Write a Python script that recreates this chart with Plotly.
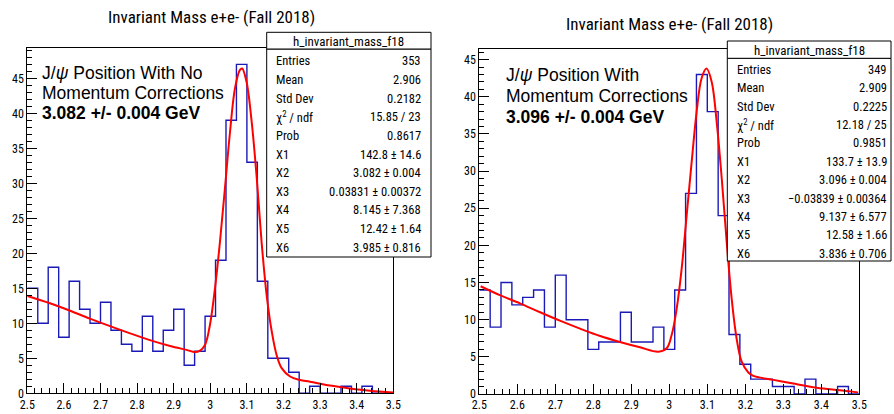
import numpy as np
import plotly.graph_objects as go

# ---------------- data ----------------
bin_lo, bin_hi, n_bins = 2.5, 3.5, 35

counts_left = [15, 10, 18, 8, 16, 12, 10, 13, 9, 7, 6, 11, 6, 9, 12, 4, 6, 11, 19,
               39, 47, 33, 16, 5, 5, 3, 0, 1, 0, 0, 1, 0, 1, 0, 0]
counts_right = [14, 9, 15, 12, 13, 14, 9, 16, 10, 10, 6, 7, 7, 11, 7, 7, 9, 6, 14,
                27, 43, 38, 24, 8, 4, 2, 2, 1, 1, 0, 2, 0, 0, 1, 0]

# fit curves
fit_left_x = [2.5, 2.562, 2.617, 2.671, 2.726, 2.781, 2.835, 2.890, 2.935, 2.958,
              2.972, 2.9855, 2.999, 3.0128, 3.0265, 3.040, 3.054, 3.0675, 3.081, 3.087,
              3.099, 3.113, 3.127, 3.140, 3.154, 3.168, 3.181, 3.195, 3.218, 3.245,
              3.272, 3.327, 3.381, 3.436, 3.5]
fit_left_y = [13.9, 12.86, 11.8, 10.67, 9.6, 8.57, 7.6, 6.76, 6.2, 5.9,
              6.1, 6.9, 9.76, 15.0, 21.7, 29.3, 37.4, 43.6, 46.2, 46.4,
              44.5, 38.8, 30.7, 21.7, 14.0, 8.8, 5.5, 3.6, 2.4, 1.9,
              1.66, 1.1, 0.7, 0.37, 0.12]

fit_right_x = [2.5035, 2.554, 2.607, 2.66, 2.712, 2.765, 2.818, 2.87, 2.923, 2.971,
               2.993, 3.006, 3.0195, 3.0326, 3.0458, 3.059, 3.072, 3.085, 3.098, 3.1116,
               3.1247, 3.138, 3.151, 3.164, 3.177, 3.1905, 3.208, 3.221, 3.274, 3.326,
               3.388, 3.449, 3.497]
fit_right_y = [14.5, 13.3, 12.2, 11.0, 9.87, 8.8, 7.8, 7.0, 6.28, 5.7,
               6.15, 7.9, 11.5, 16.9, 24.1, 31.3, 38.0, 42.5, 43.8, 42.0,
               36.6, 29.0, 20.5, 12.9, 7.5, 4.35, 2.9, 2.45, 1.9, 1.4,
               0.85, 0.5, 0.22]

title_text = "Invariant Mass e+e- (Fall 2018)"
hist_name = "h_invariant_mass_f18"
stat_labels = ["Entries", "Mean", "Std Dev", "χ<sup>2</sup> / ndf", "Prob",
               "X1", "X2", "X3", "X4", "X5", "X6"]
stat_values_left = ["353", "2.906", "0.2182", "15.85 / 23", "0.8617",
                    "142.8 ± 14.6", "3.082 ± 0.004", "0.03831 ± 0.00372",
                    "8.145 ± 7.368", "12.42 ± 1.64", "3.985 ± 0.816"]
stat_values_right = ["349", "2.909", "0.2225", "12.18 / 25", "0.9851",
                     "133.7 ± 13.9", "3.096 ± 0.004", "−0.03839 ± 0.00364",
                     "9.137 ± 6.577", "12.58 ± 1.66", "3.836 ± 0.706"]
note_left = ["J/<i>ψ</i> Position With No", "Momentum Corrections",
             "<b>3.082 +/- 0.004 GeV</b>"]
note_right = ["J/<i>ψ</i> Position With", "Momentum Corrections",
              "<b>3.096 +/- 0.004 GeV</b>"]
x_ticks = [2.5, 2.6, 2.7, 2.8, 2.9, 3.0, 3.1, 3.2, 3.3, 3.4, 3.5]
x_tick_text = ["2.5", "2.6", "2.7", "2.8", "2.9", "3", "3.1", "3.2", "3.3", "3.4", "3.5"]
y_ticks = [0, 5, 10, 15, 20, 25, 30, 35, 40, 45]

# ---------------- figure ----------------
W, H = 894, 414
NARROW = "Liberation Sans Narrow, Roboto Condensed, Liberation Sans, Arial"
SANS = "Liberation Sans, Arial, Helvetica"

def px(x):
    return x / W

def py(y):
    return 1 - y / H

edges = np.linspace(bin_lo, bin_hi, n_bins + 1)

fig = go.Figure()

def add_hist(counts, xa, ya):
    yy = list(counts) + [counts[-1]]
    fig.add_trace(go.Scatter(x=edges, y=yy, mode="lines", line_shape="hv",
                             line=dict(color="#1a1ab8", width=1.4),
                             xaxis=xa, yaxis=ya, showlegend=False, hoverinfo="skip"))

def add_fit(xs, ys, xa, ya):
    fig.add_trace(go.Scatter(x=xs, y=ys, mode="lines", line_shape="spline",
                             line=dict(color="#ff0000", width=2),
                             xaxis=xa, yaxis=ya, showlegend=False, hoverinfo="skip"))

add_hist(counts_left, "x", "y")
add_fit(fit_left_x, fit_left_y, "x", "y")
add_hist(counts_right, "x2", "y2")
add_fit(fit_right_x, fit_right_y, "x2", "y2")

axis_common = dict(showgrid=False, zeroline=False, showline=True, linecolor="black",
                   linewidth=1, mirror=True, ticks="inside", tickcolor="black",
                   automargin=False,
                   tickfont=dict(family=NARROW, size=12, color="black"))

x_common = dict(axis_common, range=[bin_lo, bin_hi], tickvals=x_ticks, ticktext=x_tick_text,
                ticklen=10, minor=dict(ticks="inside", ticklen=5, dtick=0.02,
                                        tickcolor="black", showgrid=False))
y_common = dict(axis_common, tickvals=y_ticks, ticklen=10,
                minor=dict(ticks="inside", ticklen=5, dtick=1, tickcolor="black",
                           showgrid=False))

L = dict(x0=27.3, x1=393.3, y0=48.3, y1=393.3)
R = dict(x0=479.3, x1=859.3, y0=49.3, y1=394.0)

fig.update_layout(
    width=W, height=H, margin=dict(l=0, r=0, t=0, b=0, autoexpand=False),
    paper_bgcolor="white", plot_bgcolor="white",
    xaxis=dict(x_common, domain=[px(L["x0"]), px(L["x1"])], anchor="y"),
    yaxis=dict(y_common, domain=[py(L["y1"]), py(L["y0"])], anchor="x",
               range=[0, 49.29]),
    xaxis2=dict(x_common, domain=[px(R["x0"]), px(R["x1"])], anchor="y2"),
    yaxis2=dict(y_common, domain=[py(R["y1"]), py(R["y0"])], anchor="x2",
                range=[0, 46.39]),
)

annotations = []
shapes = []

def text(x, y, s, anchor="left", size=12, family=NARROW):
    annotations.append(dict(x=px(x), y=py(y), xref="paper", yref="paper", text=s,
                            showarrow=False, xanchor=anchor, yanchor="middle",
                            font=dict(family=family, size=size, color="black")))

def rect(x0, y0, x1, y1):
    shapes.append(dict(type="rect", xref="paper", yref="paper",
                       x0=px(x0), x1=px(x1), y0=py(y1), y1=py(y0),
                       line=dict(color="black", width=1), fillcolor="white",
                       layer="above"))

# titles
text(211, 17, title_text, anchor="center", size=17)
text(669, 24, title_text, anchor="center", size=17)

# notes
for i, s in enumerate(note_left):
    text(40, 72.7 + i * 20.3, s, size=17.5, family=SANS)
for i, s in enumerate(note_right):
    text(504.3, 75 + i * 21.2, s, size=17.5, family=SANS)

# stat boxes
def stats(bx0, bx1, ty0, ty1, by1, lx, vx, row0, dy, values):
    rect(bx0, ty1, bx1, by1)
    rect(bx0, ty0, bx1, ty1)
    text((bx0 + bx1) / 2, (ty0 + ty1) / 2 + 0.5, hist_name, anchor="center", size=13)
    for i, (lab, val) in enumerate(zip(stat_labels, values)):
        yy = row0 + i * dy
        text(lx, yy, lab, anchor="left", size=12.5)
        text(vx, yy, val, anchor="right", size=12.5)

stats(266.7, 431.0, 32.3, 49.0, 257.0, 274.0, 422.7, 60.7, 18.66, stat_values_left)
stats(727.3, 891.0, 41.0, 58.3, 261.0, 735.3, 889.3, 69.3, 18.4, stat_values_right)

fig.update_layout(annotations=annotations, shapes=shapes)

fig.write_html("out.html",
               config={"displayModeBar": False, "staticPlot": True},
               post_script="document.body.style.margin='0';"
                           "document.body.style.overflow='hidden';")
